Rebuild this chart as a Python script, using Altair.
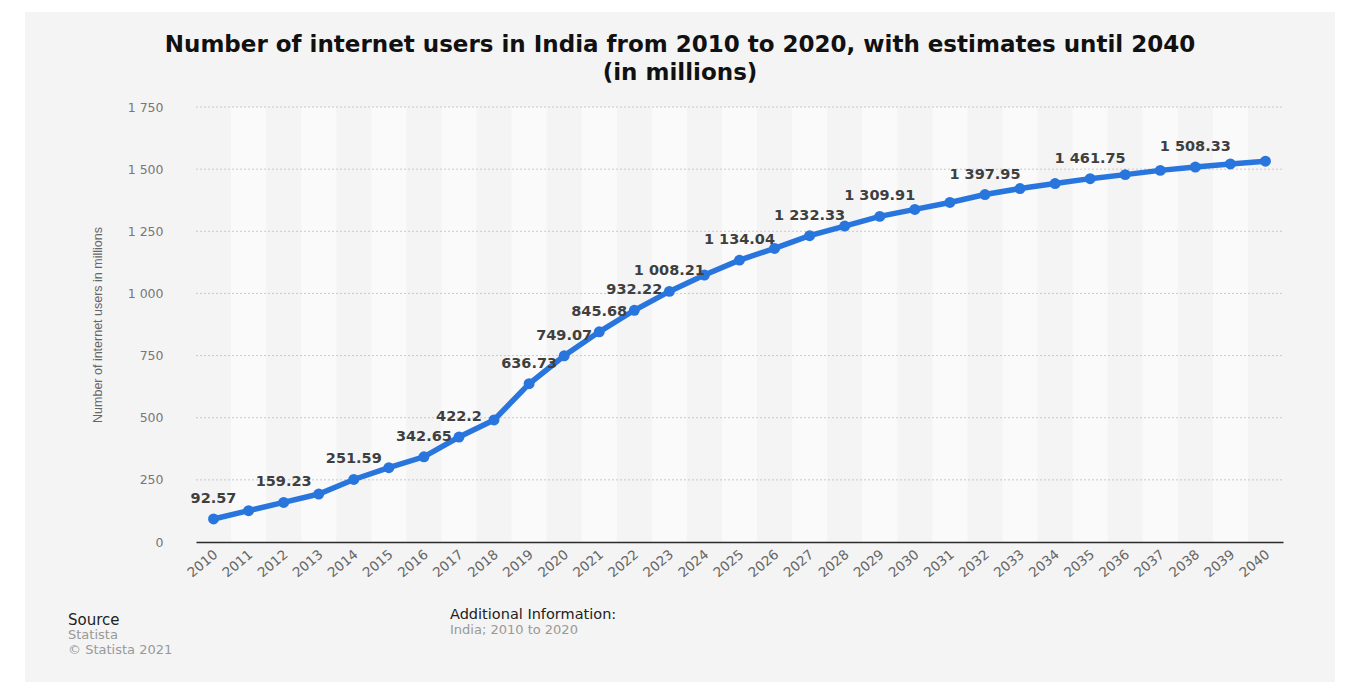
import altair as alt
import pandas as pd

# ---------------- data ----------------
years = [2010, 2011, 2012, 2013, 2014, 2015, 2016, 2017, 2018, 2019, 2020,
         2021, 2022, 2023, 2024, 2025, 2026, 2027, 2028, 2029, 2030,
         2031, 2032, 2033, 2034, 2035, 2036, 2037, 2038, 2039, 2040]
users = [92.57, 126, 159.23, 193, 251.59, 299, 342.65, 422.2, 491, 636.73, 749.07,
         845.68, 932.22, 1008.21, 1074, 1134.04, 1181, 1232.33, 1271, 1309.91, 1338,
         1366, 1397.95, 1422, 1442, 1461.75, 1478, 1495, 1508.33, 1521, 1532]
labeled_years = [2010, 2012, 2014, 2016, 2017, 2019, 2020, 2021, 2022, 2023,
                 2025, 2027, 2029, 2032, 2035, 2038]
y_ticks = [0, 250, 500, 750, 1000, 1250, 1500, 1750]

title_lines = ["Number of internet users in India from 2010 to 2020, with estimates until 2040",
               "(in millions)"]
y_title = "Number of internet users in millions"
source_head = "Source"
source_lines = ["Statista", "\u00a9 Statista 2021"]
info_head = "Additional Information:"
info_line = "India; 2010 to 2020"

df = pd.DataFrame({"year": years, "users": users})
ticks_df = pd.DataFrame({"v": y_ticks})
one = pd.DataFrame({"k": [0]})

# ---------------- layout / style ----------------
W, H = 1087, 435
PL, PT, PR, PB = 196, 107, 62, 140
BLUE = "#2876dd"
PANEL = "#f4f4f4"
BAND = "#fafafa"
FONT = "DejaVu Sans"

xscale = alt.Scale(type="band", domain=years, paddingInner=0, paddingOuter=0)
yscale = alt.Scale(domain=[0, 1750], nice=False, zero=True)

x_axis = alt.Axis(
    title=None, ticks=False, grid=False, domain=True, domainColor="#2b2b2b",
    domainWidth=1.5, labelAngle=320, labelAlign="right", labelBaseline="top",
    labelPadding=5, labelOffset=-2, labelFont=FONT, labelFontSize=13.5,
    labelColor="#666666", zindex=1,
)
y_axis = alt.Axis(
    title=y_title, values=y_ticks, ticks=False, grid=False, domain=False,
    labelExpr="replace(format(datum.value, ','), ',', ' ')",
    labelPadding=33, labelFont=FONT, labelFontSize=12.5, labelColor="#777777",
    titleFont="Liberation Sans", titleFontSize=12.5, titleFontWeight="normal",
    titleColor="#666666", titleAngle=270, titleAlign="center",
    titleBaseline="bottom", titleX=-92, titleY=H / 2, zindex=1,
)

X = alt.X("year:O", scale=xscale, axis=x_axis)
Y = alt.Y("users:Q", scale=yscale, axis=y_axis)

panel = alt.Chart(one).mark_rect(color=PANEL).encode(
    x=alt.value(25 - PL), x2=alt.value(1335 - PL),
    y=alt.value(12 - PT), y2=alt.value(682 - PT),
)

bands = alt.Chart(df).transform_filter("datum.year % 2 == 1").mark_rect(color=BAND).encode(
    x=X, y=alt.value(0), y2=alt.value(H),
)

grid = alt.Chart(ticks_df).transform_filter("datum.v > 0").mark_rule(
    color="#c9c9c9", strokeWidth=1, strokeDash=[2, 2]
).encode(
    y=alt.Y("v:Q", scale=yscale, axis=y_axis),
    x=alt.value(0), x2=alt.value(W),
)

line = alt.Chart(df).mark_line(color=BLUE, strokeWidth=5.5).encode(x=X, y=Y)
points = alt.Chart(df).mark_circle(color=BLUE, size=120, opacity=1).encode(x=X, y=Y)

labels = alt.Chart(df).transform_filter(
    alt.FieldOneOfPredicate(field="year", oneOf=labeled_years)
).transform_calculate(
    label="replace(format(datum.users, ','), ',', ' ')"
).mark_text(
    font=FONT, fontSize=14.5, fontWeight="bold", color="#3f3f3f",
    align="center", baseline="middle", dy=-20,
).encode(x=X, y=Y, text="label:N")


def note(text, x, y, size, color, weight="normal", align="left"):
    return alt.Chart(one).mark_text(
        text=text, font=FONT, fontSize=size, fontWeight=weight, color=color,
        align=align, baseline="middle",
    ).encode(x=alt.value(x - PL), y=alt.value(y - PT))


texts = [
    note(title_lines[0], 680, 45, 23, "#111111", "bold", "center"),
    note(title_lines[1], 680, 73, 23, "#111111", "bold", "center"),
    note(source_head, 68, 620, 15, "#222222"),
    note(source_lines[0], 68, 635, 13, "#999999"),
    note(source_lines[1], 68, 650, 13, "#999999"),
    note(info_head, 450, 615, 14.5, "#222222"),
    note(info_line, 450, 630, 13, "#999999"),
]

chart = alt.layer(panel, bands, grid, line, points, labels, *texts).properties(
    width=W,
    height=H,
    autosize=alt.AutoSizeParams(type="none"),
    padding={"left": PL, "top": PT, "right": PR, "bottom": PB},
    background="white",
).configure_view(stroke=None)

chart.save("out.html", embed_options={"renderer": "svg", "actions": False})
